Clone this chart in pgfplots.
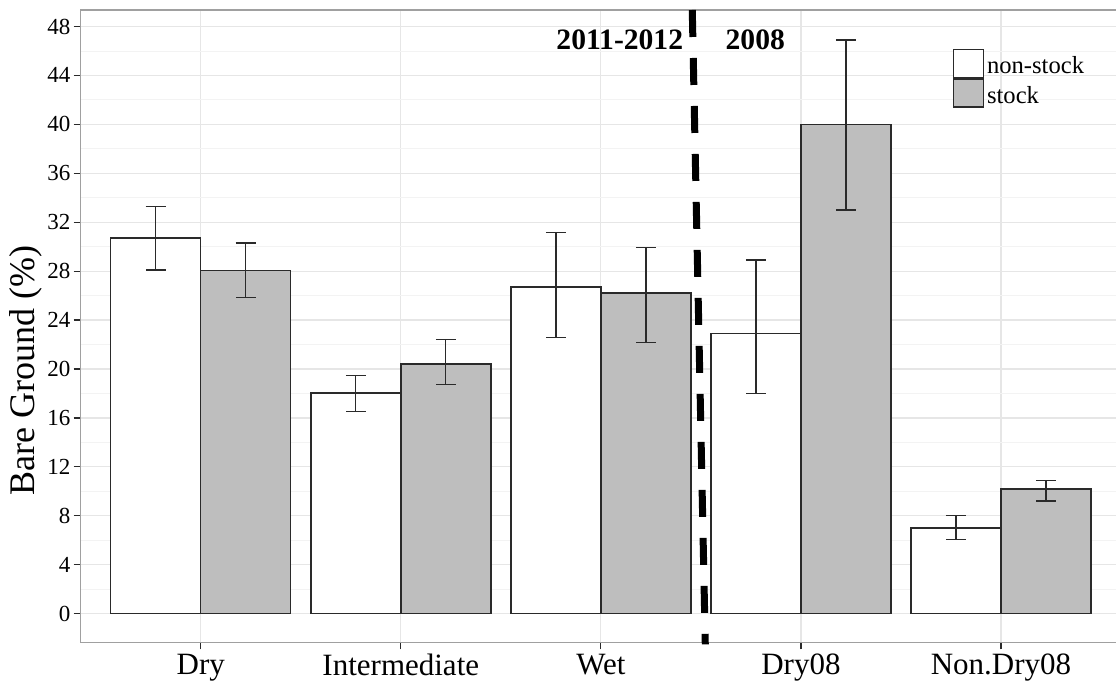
\documentclass[border=0pt]{standalone}
\usepackage{pgfplots}
\usepackage{pgfplotstable}
\pgfplotsset{compat=1.18}
\usepackage{fontspec}
\setmainfont{Liberation Serif}

\definecolor{stockgrey}{HTML}{BEBEBE}
\definecolor{gridmaj}{HTML}{E6E6E6}
\definecolor{gridmin}{HTML}{F3F3F3}
\definecolor{frame}{HTML}{A0A0A0}
\definecolor{ink}{HTML}{2A2A2A}

% x = site class (0 Dry, 1 Intermediate, 2 Wet, 3 Dry08, 4 Non.Dry08)
% y = mean bare ground, ep/em = upper/lower error
\pgfplotstableread{
x y     ep   em
0 30.70 2.60 2.60
1 18.05 1.40 1.55
2 26.70 4.45 4.15
3 22.90 6.00 4.90
4  7.00 1.00 0.95
}\nonstock

\pgfplotstableread{
x y     ep   em
0 28.05 2.25 2.20
1 20.40 2.00 1.65
2 26.20 3.75 4.05
3 40.00 6.90 7.00
4 10.20 0.70 1.00
}\stock

\begin{document}
\begin{tikzpicture}
\begin{axis}[
  name=ax,
  scale only axis,
  width=520.2pt, height=316.2pt,
  xmin=-0.6, xmax=4.6,
  ymin=-2.35, ymax=49.35,
  clip=false,
  ybar=0pt, bar width=45pt,
  xtick={0,1,2,3,4},
  xticklabels={Dry,Intermediate,Wet,Dry08,Non.Dry08},
  ytick={0,4,...,48},
  minor ytick={2,6,...,46},
  xmajorgrids, ymajorgrids, yminorgrids,
  major grid style={gridmaj, line width=0.6pt},
  minor grid style={gridmin, line width=0.4pt},
  axis line style={frame, line width=0.6pt},
  tick align=outside,
  major tick length=3.5pt,
  minor tick length=0pt,
  major tick style={ink, line width=0.6pt},
  tick pos=left,
  /pgf/number format/assume math mode=true,
  yticklabel style={font=\fontsize{11.5}{13}\selectfont, inner sep=1.5pt},
  xticklabel style={font=\fontsize{15.5}{17}\selectfont, inner sep=2pt},
  ylabel={Bare Ground (\%)},
  ylabel style={at={(ticklabel cs:0.43)}, font=\fontsize{18}{20}\selectfont, inner sep=1pt},
  legend image code/.code={\draw[#1] (0pt,-7pt) rectangle (15pt,7pt);},
  legend style={draw=none, fill=none, at={(axis cs:3.756,46.2)}, anchor=north west,
    inner sep=0pt, row sep=0pt, column sep=1.5pt,
    nodes={inner sep=0pt, text height=12pt, text depth=2pt,
      font=\fontsize{12.3}{14}\selectfont}},
  legend cell align=left,
]
\addplot[fill=white, draw=ink, line width=0.75pt,
  error bars/.cd, y dir=both, y explicit,
  error bar style={ink, line width=0.7pt},
  error mark options={rotate=90, ink, line width=0.7pt, mark size=5pt}]
  table[x=x, y=y, y error plus=ep, y error minus=em] {\nonstock};
\addplot[fill=stockgrey, draw=ink, line width=0.75pt,
  error bars/.cd, y dir=both, y explicit,
  error bar style={ink, line width=0.7pt},
  error mark options={rotate=90, ink, line width=0.7pt, mark size=5pt}]
  table[x=x, y=y, y error plus=ep, y error minus=em] {\stock};
\legend{non-stock, stock}

% divider between survey periods
\draw[black, line width=3.5pt, dash pattern=on 13.5pt off 10.5pt]
  (axis cs:2.457,49.35) -- (axis cs:2.522,-2.52);
\node[anchor=base east, inner sep=0pt, font=\bfseries\fontsize{14.8}{16}\selectfont]
  at (axis cs:2.413,46.1) {2011-2012};
\node[anchor=base west, inner sep=0pt, font=\bfseries\fontsize{14.8}{16}\selectfont]
  at (axis cs:2.622,46.1) {2008};
\end{axis}
\pgfresetboundingbox
\path ([shift={(-40.35pt,-23.85pt)}]ax.south west) rectangle ([shift={(-2.5pt,5pt)}]ax.north east);
\end{tikzpicture}
\end{document}
